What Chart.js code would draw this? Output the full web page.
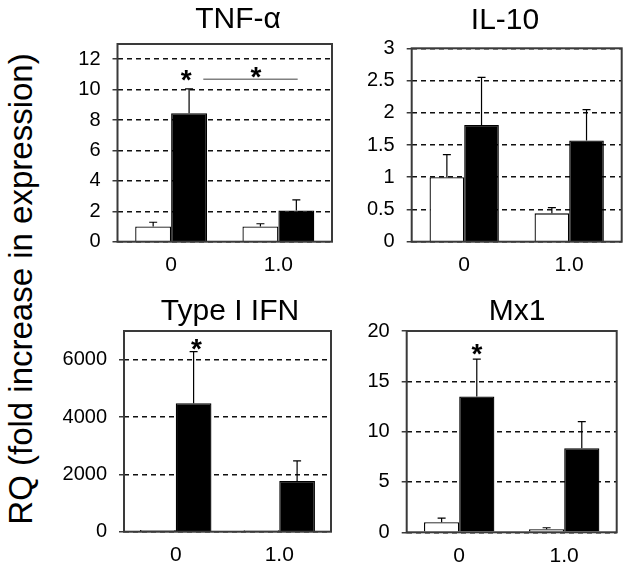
<!DOCTYPE html>
<html><head><meta charset="utf-8">
<script src="https://cdn.jsdelivr.net/npm/chart.js@4"></script>
<style>
html,body{margin:0;padding:0;background:#fff;}
body{width:628px;height:569px;position:relative;overflow:hidden;font-family:"Liberation Sans",Arial,sans-serif;}
canvas{position:absolute;}
#ylab{position:absolute;left:20px;top:289px;transform:translate(-50%,-50%) rotate(-90deg);font-size:33px;white-space:nowrap;color:#000;line-height:1;}
</style></head><body>
<div id="ylab">RQ (fold increase in expression)</div>
<canvas id="c1" width="300" height="290" style="left:40px;top:0px"></canvas>
<canvas id="c2" width="288" height="290" style="left:340px;top:0px"></canvas>
<canvas id="c3" width="300" height="279" style="left:40px;top:290px"></canvas>
<canvas id="c4" width="288" height="279" style="left:340px;top:290px"></canvas>
<script>
// ---- data ----
const categories = ['0', '1.0'];

const tnfTitle = 'TNF-α';
const tnfWhite = [1.0, 1.0];
const tnfWhiteErr = [0.28, 0.18];
const tnfBlack = [8.45, 2.05];
const tnfBlackErr = [1.6, 0.7];
const tnfTicks = [0, 2, 4, 6, 8, 10, 12];

const il10Title = 'IL-10';
const il10White = [1.0, 0.44];
const il10WhiteErr = [0.35, 0.09];
const il10Black = [1.81, 1.57];
const il10BlackErr = [0.74, 0.48];
const il10Ticks = [0, 0.5, 1, 1.5, 2, 2.5, 3];

const ifnTitle = 'Type I IFN';
const ifnWhite = [60, 50];
const ifnWhiteErr = [0, 0];
const ifnBlack = [4480, 1770];
const ifnBlackErr = [1800, 700];
const ifnTicks = [0, 2000, 4000, 6000];

const mx1Title = 'Mx1';
const mx1White = [1.0, 0.3];
const mx1WhiteErr = [0.4, 0.15];
const mx1Black = [13.5, 8.35];
const mx1BlackErr = [3.7, 2.65];
const mx1Ticks = [0, 5, 10, 15, 20];

// significance marks: x = category position (index units), v = value
const tnfStars = [{x: 0.14, v: 11.1}, {x: 0.79, v: 11.3}];
const tnfLines = [{x1: 0.30, x2: 1.18, v: 10.68}];
const il10Stars = [];
const ifnStars = [{x: 0.2, v: 6630}];
const mx1Stars = [{x: 0.17, v: 18.4}];

// ---- drawing ----
const FONT = '"Liberation Sans", Arial, sans-serif';

const decor = {
  id: 'decor',
  afterDatasetsDraw(chart, args, o) {
    const ctx = chart.ctx, xs = chart.scales.x, ys = chart.scales.y;
    ctx.save();
    // error bars
    ctx.strokeStyle = '#000'; ctx.lineWidth = 1.2; ctx.setLineDash([]);
    chart.data.datasets.forEach((ds, di) => {
      const meta = chart.getDatasetMeta(di);
      meta.data.forEach((bar, i) => {
        const e = ds.err[i];
        if (!e) return;
        const base = ys.getPixelForValue(ds.data[i]);
        const top = ys.getPixelForValue(ds.data[i] + e);
        ctx.beginPath();
        ctx.moveTo(bar.x, base); ctx.lineTo(bar.x, top);
        ctx.moveTo(bar.x - 4, top); ctx.lineTo(bar.x + 4, top);
        ctx.stroke();
      });
    });
    // box
    const a = chart.chartArea;
    ctx.strokeStyle = '#3a3a3a'; ctx.lineWidth = 2;
    ctx.strokeRect(a.left, a.top, a.right - a.left, a.bottom - a.top);
    // significance lines
    ctx.strokeStyle = '#808080'; ctx.lineWidth = 1.5;
    (o.lines || []).forEach(l => {
      const y = ys.getPixelForValue(l.v);
      ctx.beginPath(); ctx.moveTo(xs.getPixelForValue(l.x1), y); ctx.lineTo(xs.getPixelForValue(l.x2), y); ctx.stroke();
    });
    // stars
    ctx.fillStyle = '#000'; ctx.font = 'bold 28px ' + FONT;
    ctx.textAlign = 'center'; ctx.textBaseline = 'alphabetic';
    (o.stars || []).forEach(s => {
      ctx.fillText('*', xs.getPixelForValue(s.x), ys.getPixelForValue(s.v) + 0.57 * 28);
    });
    // title
    ctx.font = '30px ' + FONT;
    ctx.fillText(o.title, o.tx, o.ty);
    ctx.restore();
  }
};

function makeChart(id, p) {
  const ctx = document.getElementById(id);
  return new Chart(ctx, {
    type: 'bar',
    data: {
      labels: categories,
      datasets: [
        {data: p.white, err: p.whiteErr, backgroundColor: '#fff', borderColor: '#000', borderWidth: 1.3},
        {data: p.black, err: p.blackErr, backgroundColor: '#000', borderColor: '#000', borderWidth: 1.3}
      ]
    },
    options: {
      responsive: false,
      animation: false,
      events: [],
      layout: {padding: {left: 0, right: p.padR, top: p.padT, bottom: 0}},
      datasets: {bar: {categoryPercentage: p.catPct, barPercentage: 1.0}},
      plugins: {
        legend: {display: false}, tooltip: {enabled: false}, title: {display: false},
        decor: {title: p.title, tx: p.tx, ty: p.ty, stars: p.stars, lines: p.lines}
      },
      scales: {
        x: {
          grid: {display: false, drawTicks: false},
          border: {display: false},
          ticks: {color: '#000', font: {family: FONT, size: 21}, padding: 11},
          afterFit(s) { s.height = p.xH; }
        },
        y: {
          min: p.min, max: p.max,
          afterBuildTicks(s) { s.ticks = p.ticks.map(v => ({value: v})); },
          grid: {color: '#111', lineWidth: 1.5, tickLength: 5, tickColor: '#3a3a3a', tickWidth: 1.5, tickBorderDash: []},
          border: {display: false, dash: [5, 4]},
          ticks: {color: '#000', font: {family: FONT, size: 20}, padding: 12, callback: v => String(v)},
          afterFit(s) { s.width = p.yW; }
        }
      }
    },
    plugins: [decor]
  });
}

makeChart('c1', {white: tnfWhite, whiteErr: tnfWhiteErr, black: tnfBlack, blackErr: tnfBlackErr,
  ticks: tnfTicks, min: 0, max: 13, yW: 77.5, padR: 8, padT: 44, xH: 48.3, catPct: 0.67,
  title: tnfTitle, tx: 238 - 40, ty: 28, stars: tnfStars, lines: tnfLines});
makeChart('c2', {white: il10White, whiteErr: il10WhiteErr, black: il10Black, blackErr: il10BlackErr,
  ticks: il10Ticks, min: 0, max: 3, yW: 71.7, padR: 6.3, padT: 48.3, xH: 48.3, catPct: 0.66,
  title: il10Title, tx: 505 - 340, ty: 29, stars: il10Stars, lines: []});
makeChart('c3', {white: ifnWhite, whiteErr: ifnWhiteErr, black: ifnBlack, blackErr: ifnBlackErr,
  ticks: ifnTicks, min: 0, max: 7000, yW: 84, padR: 9, padT: 41, xH: 37.3, catPct: 0.69,
  title: ifnTitle, tx: 230 - 40, ty: 320 - 290, stars: ifnStars, lines: []});
makeChart('c4', {white: mx1White, whiteErr: mx1WhiteErr, black: mx1Black, blackErr: mx1BlackErr,
  ticks: mx1Ticks, min: 0, max: 20, yW: 66.7, padR: 11.3, padT: 41, xH: 36.7, catPct: 0.67,
  title: mx1Title, tx: 517 - 340, ty: 320 - 290, stars: mx1Stars, lines: []});
</script>
</body></html>
